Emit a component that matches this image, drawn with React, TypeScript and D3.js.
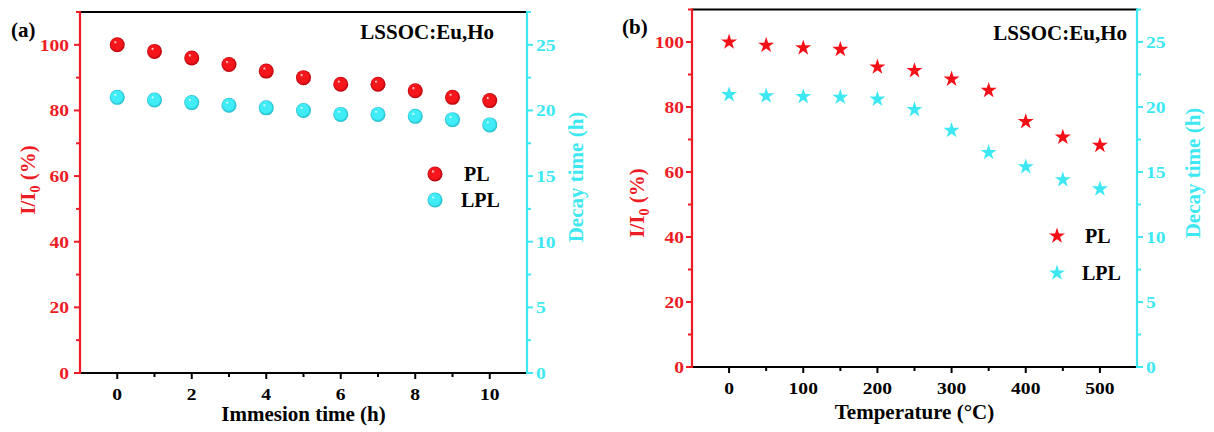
import React, { useEffect, useRef } from 'react';
import * as d3 from 'd3';

// panel (a): immersion time
const immersionHours = [0, 1, 2, 3, 4, 5, 6, 7, 8, 9, 10];
const immersionPL = [100, 98, 96, 94, 92, 90, 88, 88, 86, 84, 83];
const immersionLPL = [21.0, 20.8, 20.6, 20.4, 20.2, 20.0, 19.7, 19.7, 19.55, 19.3, 18.9];

// panel (b): temperature
const temperatures = [0, 50, 100, 150, 200, 250, 300, 350, 400, 450, 500];
const temperaturePL = [100, 99, 98.2, 97.7, 92.3, 91.2, 88.6, 85.1, 75.5, 70.7, 68.2];
const temperatureLPL = [20.95, 20.85, 20.8, 20.75, 20.6, 19.8, 18.2, 16.5, 15.4, 14.4, 13.7];

const leftTicks = [0, 20, 40, 60, 80, 100];
const rightTicks = [0, 5, 10, 15, 20, 25];
const immersionTicks = [0, 2, 4, 6, 8, 10];
const temperatureTicks = [0, 100, 200, 300, 400, 500];

const RED = '#ee1c25';
const CYAN = '#3ee8f2';
const FONT = 'Liberation Serif';

const App = () => {
  const ref = useRef(null);

  useEffect(() => {
    const svg = d3.select(ref.current);
    svg.selectAll('*').remove();
    svg.style('font-family', FONT).style('font-weight', 'bold');

    const defs = svg.append('defs');
    const ball = (id, c, dark) => {
      const g = defs.append('radialGradient').attr('id', id)
        .attr('cx', '50%').attr('cy', '50%').attr('r', '50%').attr('fx', '35%').attr('fy', '30%');
      g.append('stop').attr('offset', '0%').attr('stop-color', '#ffffff');
      g.append('stop').attr('offset', '22%').attr('stop-color', c);
      g.append('stop').attr('offset', '75%').attr('stop-color', c);
      g.append('stop').attr('offset', '100%').attr('stop-color', dark);
    };
    ball('ballRed', '#f5161c', '#b00008');
    ball('ballCyan', '#40ecf5', '#1fb8c8');

    // tick labels in the original are a bit wider than the font, stretch them slightly
    const tickText = (g, px, py, t, anchor, fill) =>
      g.append('text').attr('transform', `translate(${px},${py}) scale(1.15,1)`)
        .attr('text-anchor', anchor).attr('fill', fill).attr('font-size', 17).text(t);

    const panel = (cfg) => {
      const { left, right, top, bottom } = cfg;
      const x = d3.scaleLinear().domain(cfg.xDomain).range([left, right]);
      const yL = d3.scaleLinear().domain([0, 110]).range([bottom, top]);
      const yR = d3.scaleLinear().domain([0, 27.5]).range([bottom, top]);
      const g = svg.append('g');

      // top frame
      g.append('line').attr('x1', left).attr('x2', right).attr('y1', top).attr('y2', top)
        .attr('stroke', '#000').attr('stroke-width', 2);

      // bottom axis
      g.append('line').attr('x1', left).attr('x2', right).attr('y1', bottom).attr('y2', bottom)
        .attr('stroke', '#000').attr('stroke-width', 2);
      cfg.xTicks.forEach((t) => {
        g.append('line').attr('x1', x(t)).attr('x2', x(t)).attr('y1', bottom).attr('y2', bottom + 6)
          .attr('stroke', '#000').attr('stroke-width', 2);
        tickText(g, x(t), bottom + 27, t, 'middle', '#000');
      });
      cfg.xMinor.forEach((t) => {
        g.append('line').attr('x1', x(t)).attr('x2', x(t)).attr('y1', bottom).attr('y2', bottom + 4)
          .attr('stroke', '#000').attr('stroke-width', 2);
      });
      g.append('text').attr('x', (left + right) / 2).attr('y', bottom + cfg.xTitleDy)
        .attr('text-anchor', 'middle').attr('font-size', 21).text(cfg.xTitle);

      // left axis
      g.append('line').attr('x1', left).attr('x2', left).attr('y1', top - 1).attr('y2', bottom + 1)
        .attr('stroke', RED).attr('stroke-width', 2.2);
      leftTicks.forEach((t) => {
        g.append('line').attr('x1', left).attr('x2', left - 6).attr('y1', yL(t)).attr('y2', yL(t))
          .attr('stroke', RED).attr('stroke-width', 2);
        tickText(g, left - cfg.leftGap, yL(t) + 6, t, 'end', RED);
      });
      d3.range(10, 111, 20).forEach((t) => {
        g.append('line').attr('x1', left).attr('x2', left - 4).attr('y1', yL(t)).attr('y2', yL(t))
          .attr('stroke', RED).attr('stroke-width', 2);
      });
      const lt = g.append('text')
        .attr('transform', `translate(${cfg.leftTitle[0]},${cfg.leftTitle[1]}) rotate(-90)`)
        .attr('text-anchor', 'middle').attr('dy', '0.35em').attr('fill', RED).attr('font-size', 21);
      lt.append('tspan').text('I/I');
      lt.append('tspan').attr('font-size', 14).attr('dy', 5).text('0');
      lt.append('tspan').attr('dy', -5).text(' (%)');

      // right axis
      g.append('line').attr('x1', right).attr('x2', right).attr('y1', top - 1).attr('y2', bottom + 1)
        .attr('stroke', CYAN).attr('stroke-width', 2.2);
      rightTicks.forEach((t) => {
        g.append('line').attr('x1', right).attr('x2', right + 6).attr('y1', yR(t)).attr('y2', yR(t))
          .attr('stroke', CYAN).attr('stroke-width', 2);
        tickText(g, right + 9, yR(t) + 6, t, 'start', CYAN);
      });
      d3.range(2.5, 28, 5).forEach((t) => {
        g.append('line').attr('x1', right).attr('x2', right + 4).attr('y1', yR(t)).attr('y2', yR(t))
          .attr('stroke', CYAN).attr('stroke-width', 2);
      });
      g.append('text')
        .attr('transform', `translate(${cfg.rightTitle[0]},${cfg.rightTitle[1]}) rotate(-90)`)
        .attr('text-anchor', 'middle').attr('dy', '0.35em').attr('fill', CYAN)
        .attr('font-size', 21).text('Decay time (h)');

      // labels
      g.append('text').attr('x', cfg.tag[0]).attr('y', cfg.tag[1]).attr('font-size', 21).text(cfg.tagText);
      g.append('text').attr('x', cfg.title[0]).attr('y', cfg.title[1]).attr('text-anchor', 'end')
        .attr('font-size', 21).text('LSSOC:Eu,Ho');

      // markers
      const drawMark = (sel, color, ballId) => {
        if (cfg.star) {
          sel.append('path').attr('d', d3.symbol().type(d3.symbolStar).size(80)()).attr('fill', color);
        } else {
          sel.append('circle').attr('r', 7.5).attr('fill', `url(#${ballId})`);
        }
      };
      cfg.xs.forEach((v, i) => {
        drawMark(g.append('g').attr('transform', `translate(${x(v)},${yR(cfg.lpl[i])})`), CYAN, 'ballCyan');
      });
      cfg.xs.forEach((v, i) => {
        drawMark(g.append('g').attr('transform', `translate(${x(v)},${yL(cfg.pl[i])})`), '#f50f16', 'ballRed');
      });

      // legend
      const lg = g.append('g').attr('transform', `translate(${cfg.legend[0]},${cfg.legend[1]})`);
      drawMark(lg.append('g'), '#f50f16', 'ballRed');
      drawMark(lg.append('g').attr('transform', `translate(0,${cfg.legendGap})`), CYAN, 'ballCyan');
      lg.append('text').attr('x', cfg.legendText).attr('y', 0).attr('dy', '0.35em').attr('font-size', 20).text('PL');
      lg.append('text').attr('x', cfg.legendText - 3).attr('y', cfg.legendGap).attr('dy', '0.35em')
        .attr('font-size', 20).text('LPL');
    };

    panel({
      left: 80, right: 527, top: 12, bottom: 373,
      xDomain: [-1, 11], xTicks: immersionTicks, xMinor: [1, 3, 5, 7, 9],
      xTitle: 'Immesion time (h)', xTitleDy: 48, leftGap: 11,
      leftTitle: [28, 180], rightTitle: [576, 177],
      tag: [11, 37], tagText: '(a)', title: [494, 39],
      xs: immersionHours, pl: immersionPL, lpl: immersionLPL, star: false,
      legend: [435, 174], legendGap: 26, legendText: 29,
    });

    panel({
      left: 692, right: 1137, top: 9.5, bottom: 367,
      xDomain: [-50, 550], xTicks: temperatureTicks, xMinor: [50, 150, 250, 350, 450],
      xTitle: 'Temperature (°C)', xTitleDy: 52, leftGap: 8,
      leftTitle: [637, 203], rightTitle: [1193, 173],
      tag: [622, 34], tagText: '(b)', title: [1127, 40],
      xs: temperatures, pl: temperaturePL, lpl: temperatureLPL, star: true,
      legend: [1057, 236], legendGap: 37, legendText: 28,
    });
  }, []);

  return (
    <svg ref={ref} width={1214} height={432}
      style={{ position: 'absolute', left: 0, top: 0, background: '#fff' }} />
  );
};

export default App;
